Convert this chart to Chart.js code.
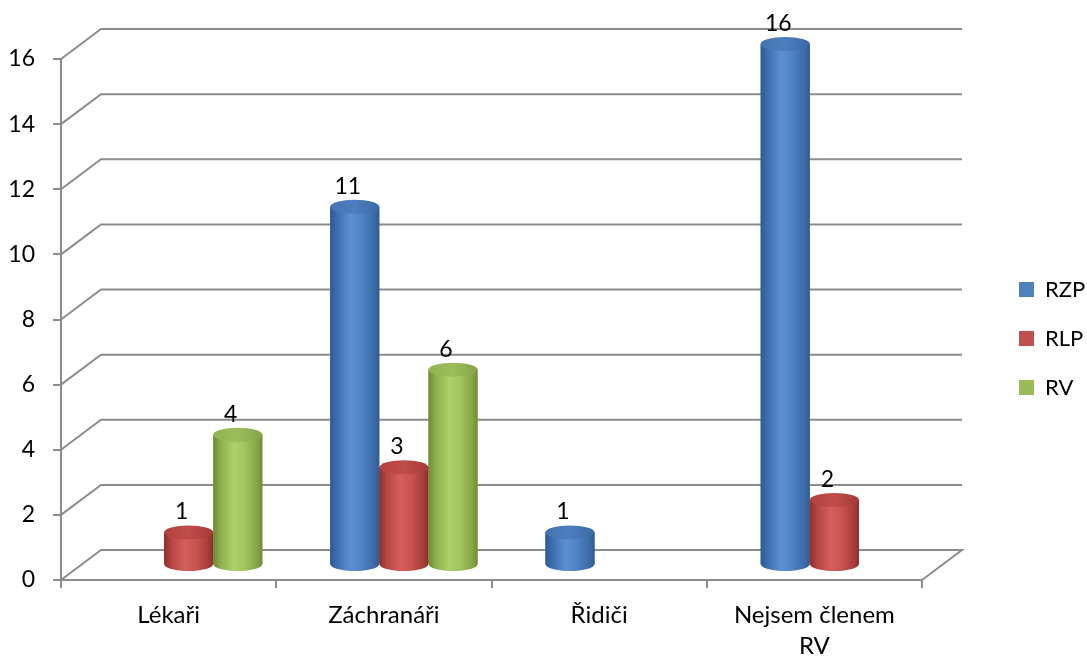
<!DOCTYPE html>
<html>
<head>
<meta charset="utf-8">
<script src="https://cdn.jsdelivr.net/npm/chart.js@4/dist/chart.umd.min.js"></script>
<style>
  html, body { margin: 0; padding: 0; background: #fff; }
  #wrap { width: 1087px; height: 657px; }
</style>
</head>
<body>
<div id="wrap"><canvas id="chart" width="1087" height="657"></canvas></div>
<script>
// Categories (multi-line label as array)
const categories = ['Lékaři', 'Záchranáři', 'Řidiči', ['Nejsem členem', 'RV']];
const seriesNames = ['RZP', 'RLP', 'RV'];
const rzpValues = [null, 11, 1, 16];
const rlpValues = [1, 3, null, 2];
const rvValues = [4, 6, null, null];
const yTickValues = [0, 2, 4, 6, 8, 10, 12, 14, 16];

// Styling
const baseColors = ['#4F81BD', '#C0504D', '#9BBB59'];
const GRID = '#8c8c8c';
const DEPTH = { x: 40, y: -30 };     // back wall offset of the 3-D box
const CAP_RY = 7;                      // vertical radius of cylinder ends
const shades = [
  { body: [[0, '#2b5a93'], [0.15, '#3f70b0'], [0.42, '#5c90d3'], [0.65, '#4e82c3'], [0.9, '#3b6aa6'], [1, '#2f5b92']],
    cap:  [[0, '#4473b1'], [0.5, '#4d7ebe'], [1, '#3a68a5']] },
  { body: [[0, '#8e2f2c'], [0.15, '#b44542'], [0.42, '#d45f5b'], [0.65, '#c9534f'], [0.9, '#a63d3a'], [1, '#8f2f2c']],
    cap:  [[0, '#b2413e'], [0.5, '#c04d4a'], [1, '#a23a37']] },
  { body: [[0, '#6d8a35'], [0.15, '#8eaf4e'], [0.42, '#aed06a'], [0.65, '#a2c35e'], [0.9, '#85a447'], [1, '#6f8b37']],
    cap:  [[0, '#93b252'], [0.5, '#9dbd5b'], [1, '#85a347']] }
];

function gradient(ctx, l, r, stops) {
  const g = ctx.createLinearGradient(l, 0, r, 0);
  stops.forEach(([o, c]) => g.addColorStop(o, c));
  return g;
}

function drawCylinder(ctx, el, pal) {
  const { x, y, base, width } = el.getProps(['x', 'y', 'base', 'width'], true);
  const rx = width / 2, l = x - rx, r = x + rx;
  ctx.beginPath();
  ctx.moveTo(l, y);
  ctx.lineTo(l, base);
  ctx.ellipse(x, base, rx, CAP_RY, 0, Math.PI, 0, true);
  ctx.lineTo(r, y);
  ctx.closePath();
  ctx.fillStyle = gradient(ctx, l, r, pal.body);
  ctx.fill();
  ctx.beginPath();
  ctx.ellipse(x, y, rx, CAP_RY, 0, 0, Math.PI * 2);
  ctx.fillStyle = gradient(ctx, l, r, pal.cap);
  ctx.fill();
}

// Back wall, side wall and floor lines plus cylinder rendering
const depthPlugin = {
  id: 'depth3d',
  beforeDatasetsDraw(chart) {
    const { ctx, chartArea: a, scales: { y } } = chart;
    ctx.save();
    ctx.strokeStyle = GRID;
    ctx.lineWidth = 2;
    y.ticks.forEach(t => {
      const py = y.getPixelForValue(t.value);
      ctx.beginPath();
      ctx.moveTo(a.left, py);
      ctx.lineTo(a.left + DEPTH.x, py + DEPTH.y);
      ctx.lineTo(a.right + DEPTH.x, py + DEPTH.y);
      if (t.value === y.min) ctx.lineTo(a.right, py);
      ctx.stroke();
    });
    ctx.restore();
    // bars stand in the middle of the depth
    ctx.save();
    ctx.translate(DEPTH.x / 2, DEPTH.y / 2);
  },
  afterDatasetsDraw(chart) {
    const { ctx } = chart;
    const visible = [];
    chart.data.datasets.forEach((ds, i) => {
      chart.getDatasetMeta(i).data.forEach((el, j) => {
        if (ds.data[j] == null) return;
        drawCylinder(ctx, el, shades[i]);
        visible.push({ el, value: ds.data[j] });
      });
    });
    ctx.restore();
    // value labels above each cylinder
    ctx.save();
    ctx.fillStyle = '#000';
    ctx.font = '23px Lato';
    ctx.textAlign = 'center';
    ctx.textBaseline = 'alphabetic';
    visible.forEach(({ el, value }) => {
      ctx.fillText(String(value), el.x + DEPTH.x / 2 - 7, el.y + DEPTH.y / 2 - 13);
    });
    ctx.restore();
  }
};

Chart.defaults.font.family = 'Lato';
Chart.defaults.font.size = 22;
Chart.defaults.color = '#000';

const seriesData = [rzpValues, rlpValues, rvValues];

new Chart(document.getElementById('chart'), {
  type: 'bar',
  data: {
    labels: categories,
    datasets: seriesNames.map((name, i) => ({
      label: name,
      data: seriesData[i],
      backgroundColor: baseColors[i],
      borderWidth: 0,
      clip: false,
      categoryPercentage: 0.685,
      barPercentage: 1
    }))
  },
  options: {
    responsive: false,
    animation: false,
    events: [],
    devicePixelRatio: 1,
    layout: { padding: { top: 59, right: 0, bottom: 0, left: 0 } },
    plugins: {
      tooltip: { enabled: false },
      legend: {
        position: 'right',
        fullSize: false,
        maxWidth: 95,
        align: 'center',
        title: { display: true, text: '', padding: { top: 13, bottom: 13 }, font: { size: 10, lineHeight: 1.2 } },
        labels: { boxWidth: 15, boxHeight: 15, padding: 27, color: '#000', font: { size: 22 } }
      }
    },
    scales: {
      x: {
        grid: { drawOnChartArea: false, drawTicks: true, tickLength: 8, color: GRID, lineWidth: 2, offset: true },
        border: { display: true, color: GRID, width: 2 },
        ticks: { color: '#000', padding: 11.5, autoSkip: false, maxRotation: 0, font: { size: 24, lineHeight: 1.29 } },
        afterFit(s) { s.height = 77; }
      },
      y: {
        min: 0,
        max: 16,
        afterBuildTicks(s) { s.ticks = yTickValues.map(v => ({ value: v })); },
        grid: { drawOnChartArea: false, drawTicks: true, tickLength: 8, color: GRID, lineWidth: 2 },
        border: { display: true, color: GRID, width: 2 },
        ticks: { color: '#000', padding: 18, font: { size: 23 } },
        afterFit(s) { s.width = 61; }
      },
      gap: {
        type: 'linear',
        position: 'right',
        display: true,
        grid: { display: false },
        border: { display: false },
        ticks: { display: false },
        afterFit(s) { s.width = 70; }
      }
    }
  },
  plugins: [depthPlugin]
});
</script>
</body>
</html>
